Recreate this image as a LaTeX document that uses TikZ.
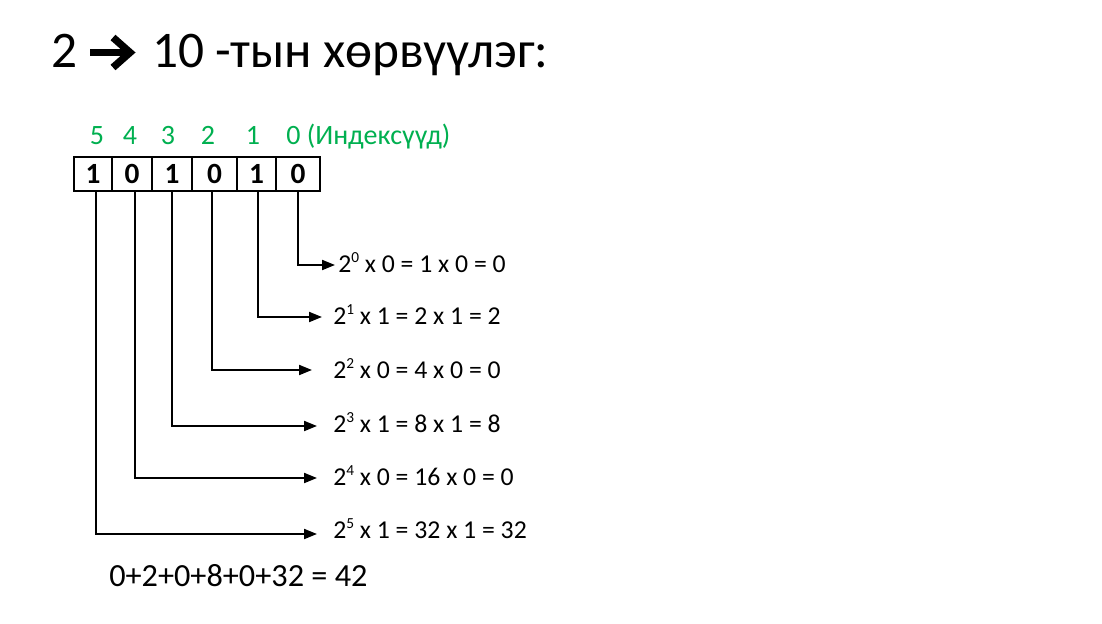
\documentclass[tikz,border=0pt]{standalone}
\usepackage{fontspec}
\setmainfont{Carlito}
\usetikzlibrary{arrows.meta}
\definecolor{idxgreen}{RGB}{0,176,80}
\newcommand{\pw}[1]{\raisebox{0.75ex}{\fontsize{11.5}{12}\selectfont #1}}
\begin{document}
\begin{tikzpicture}[x=0.75pt,y=-0.75pt,
  titlefont/.style={font=\fontsize{38.5}{44}\selectfont},
  idx/.style={anchor=base,inner sep=0pt,text=idxgreen,font=\fontsize{21}{24}\selectfont},
  cell/.style={draw,line width=1pt,minimum height=25.5pt,inner sep=0pt,font=\bfseries\fontsize{22}{24}\selectfont},
  eq/.style={anchor=base west,inner sep=0pt,font=\fontsize{19.3}{22}\selectfont},
  conn/.style={line width=1.5pt,-{Triangle[length=9.75pt,width=7.5pt]}}]
\useasboundingbox[fill=white] (0,0) rectangle (1102,624);
% title
\node[titlefont,anchor=base west,inner sep=0pt] (t2) at (51,68) {2};
\node[titlefont,anchor=base west,inner sep=0pt] (ttl) at (152,68) {10 -тын хөрвүүлэг:};
\coordinate (as) at (90,52.5);
\coordinate (ae) at (129,52.5);
\draw[line width=5.25pt] (as) -- (ae);
\draw[line width=5.5pt,miter limit=10] (113,37.5) -- (130,52.5) -- (113,67.5);
% indices
\node[idx] (i5) at (97,145) {5};
\node[idx] (i4) at (130,145) {4};
\node[idx] (i3) at (168,145) {3};
\node[idx] (i2) at (208,145) {2};
\node[idx] (i1) at (253,145) {1};
\node[idx,anchor=base west] (i0) at (286,145) {0 (Индексүүд)};
% cells
\node[cell,minimum width=28.5pt] (c5) at (93,174) {1};
\node[cell,minimum width=30pt] (c4) at (132,174) {0};
\node[cell,minimum width=30pt] (c3) at (172,174) {1};
\node[cell,minimum width=33.75pt] (c2) at (214.5,174) {0};
\node[cell,minimum width=29.25pt] (c1) at (256.5,174) {1};
\node[cell,minimum width=33pt] (c0) at (298,174) {0};
% tips
\coordinate (p0) at (335,265);
\coordinate (p1) at (322,317);
\coordinate (p2) at (312,370);
\coordinate (p3) at (317,426);
\coordinate (p4) at (317,478);
\coordinate (p5) at (317,534);
\draw[conn] (c0.south) |- (p0);
\draw[conn] ([xshift=1.1pt]c1.south) |- (p1);
\draw[conn] ([xshift=-1.9pt]c2.south) |- (p2);
\draw[conn] (c3.south) |- (p3);
\draw[conn] ([xshift=2pt]c4.south) |- (p4);
\draw[conn] ([xshift=2pt]c5.south) |- (p5);
% equations
\node[eq] (e0) at (338,272) {2\pw{0} x 0 = 1 x 0 = 0};
\node[eq] (e1) at (333,324) {2\pw{1} x 1 = 2 x 1 = 2};
\node[eq] (e2) at (333,378) {2\pw{2} x 0 = 4 x 0 = 0};
\node[eq] (e3) at (333,432) {2\pw{3} x 1 = 8 x 1 = 8};
\node[eq] (e4) at (333,485) {2\pw{4} x 0 = 16 x 0 = 0};
\node[eq] (e5) at (333,538) {2\pw{5} x 1 = 32 x 1 = 32};
\node[anchor=base west,inner sep=0pt,font=\fontsize{24.2}{28}\selectfont] (sum) at (109,586) {0+2+0+8+0+32 = 42};
\end{tikzpicture}
\end{document}
